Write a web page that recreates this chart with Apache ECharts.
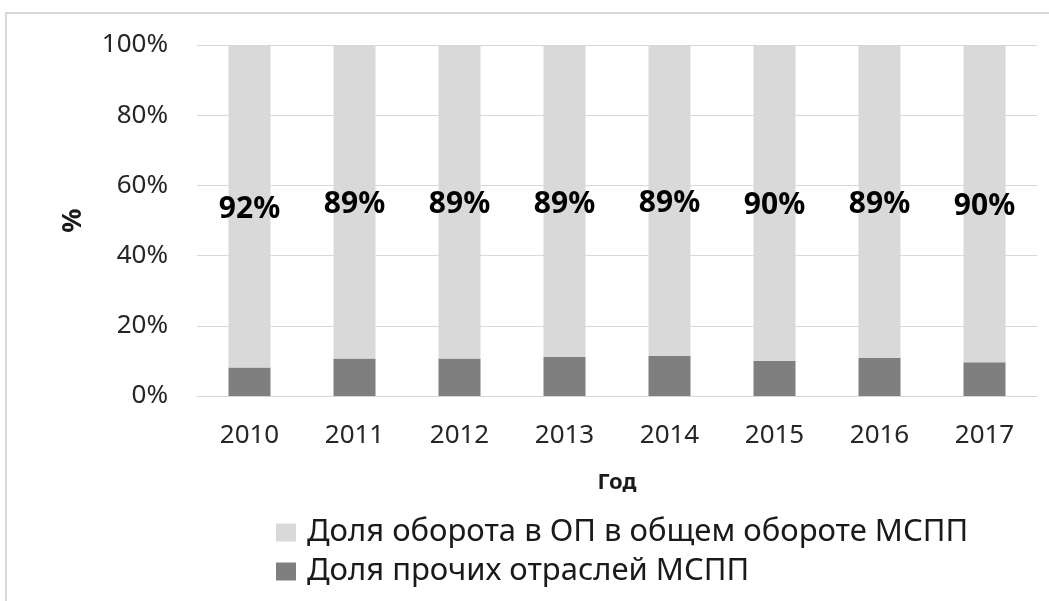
<!DOCTYPE html>
<html>
<head>
<meta charset="utf-8">
<script src="https://cdn.jsdelivr.net/npm/echarts@6/dist/echarts.min.js"></script>
<style>
html,body{margin:0;padding:0;background:#fff;}
#chart{width:1049px;height:601px;}
</style>
</head>
<body>
<div id="chart"></div>
<script>
var years = ['2010','2011','2012','2013','2014','2015','2016','2017'];
var otherShare = [8.1, 10.7, 10.7, 11.1, 11.4, 10.0, 10.8, 9.6];
var opShare = [91.9, 89.3, 89.3, 88.9, 88.6, 90.0, 89.2, 90.4];
var yTicks = [0, 20, 40, 60, 80, 100];
var seriesNames = ['Доля оборота в ОП в общем обороте МСПП', 'Доля прочих отраслей МСПП'];

var chart = echarts.init(document.getElementById('chart'));
var font = 'Noto Sans';
chart.setOption({
  animation: false,
  backgroundColor: '#fff',
  graphic: [{
    type: 'rect', silent: true, z: -1,
    shape: { x: 6, y: 13, width: 1200, height: 800 },
    style: { fill: 'none', stroke: '#d9d9d9', lineWidth: 2 }
  }],
  grid: { left: 197, right: 12, top: 45, bottom: 205, containLabel: false },
  legend: {
    orient: 'vertical', left: 271, top: 512,
    itemWidth: 20, itemHeight: 18, itemGap: 8,
    data: [seriesNames[0], seriesNames[1]],
    textStyle: { fontFamily: font, fontSize: 31, color: '#1a1a1a', padding: [0,0,0,6] },
    icon: 'rect'
  },
  xAxis: {
    type: 'category', data: years,
    axisLine: { lineStyle: { color: '#d9d9d9', width: 1 } },
    axisTick: { show: false },
    axisLabel: { fontFamily: font, fontSize: 26, color: '#262626', margin: 27 },
    name: 'Год', nameLocation: 'middle', nameGap: 76,
    nameTextStyle: { fontFamily: font, fontSize: 22, fontWeight: 'bold', color: '#1a1a1a' }
  },
  yAxis: {
    type: 'value', min: 0, max: 100, interval: 20,
    axisLine: { show: false }, axisTick: { show: false },
    splitLine: { lineStyle: { color: '#d9d9d9', width: 1 } },
    axisLabel: { fontFamily: font, fontSize: 26, color: '#262626', margin: 29,
      formatter: function (v) { return yTicks.indexOf(v) >= 0 ? v + '%' : ''; } },
    name: '%', nameLocation: 'middle', nameGap: 110, nameRotate: 90,
    nameTextStyle: { fontFamily: font, fontSize: 27, fontWeight: 'bold', color: '#1a1a1a' }
  },
  series: [
    {
      name: seriesNames[1], type: 'bar', stack: 'total', barWidth: '40%',
      data: otherShare, itemStyle: { color: '#7f7f7f' }
    },
    {
      name: seriesNames[0], type: 'bar', stack: 'total', barWidth: '40%',
      data: opShare, itemStyle: { color: '#d9d9d9' },
      label: {
        show: true, position: 'inside', offset: [0, 3],
        fontFamily: font, fontSize: 30, fontWeight: 'bold', color: '#000',
        formatter: function (p) { return Math.round(p.value) + '%'; }
      }
    }
  ]
});
</script>
</body>
</html>
